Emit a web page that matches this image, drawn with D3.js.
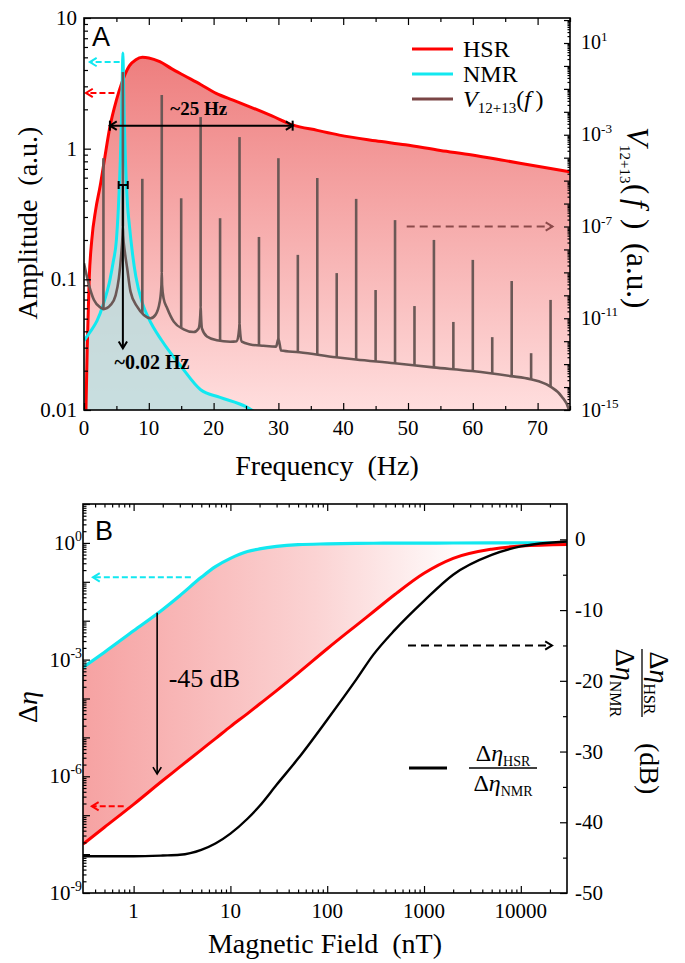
<!DOCTYPE html>
<html>
<head>
<meta charset="utf-8">
<script src="https://cdn.jsdelivr.net/npm/d3@7"></script>
<style>
  body { margin: 0; background: #fff; }
  svg text { font-family: "Liberation Serif", "Times New Roman", serif; fill: #000; }
</style>
</head>
<body>
<script>
// ---------- Panel A : spectra ----------
const hsrFreq = [0.2, 0.3, 0.5, 0.8, 1.2, 1.8, 2.5, 3.2, 4, 5, 5.8, 7, 8, 9, 10, 11.7, 13.5, 15.3, 18, 20.4,
                 23, 25.5, 29, 32.2, 36, 39.4, 45, 49.6, 55, 59.9, 65, 70.2, 75];
const hsrAmp  = [0.006, 0.01, 0.03, 0.1, 0.2, 0.34, 0.52, 0.85, 1.47, 2.35, 3.16, 4.3, 4.8, 5.0, 4.95, 4.63, 4.1, 3.66, 3.1, 2.65,
                 2.35, 2.1, 1.78, 1.52, 1.38, 1.27, 1.15, 1.07, 0.97, 0.895, 0.81, 0.73, 0.665];

const nmrFreq = [0, 1, 2, 3, 4, 4.5, 5, 5.3, 5.6, 5.8, 5.95, 6, 6.05, 6.2, 6.4, 6.7, 7, 7.5, 8, 9,
                 10, 12, 15, 18, 21, 25, 27];
const nmrAmp  = [0.034, 0.040, 0.048, 0.065, 0.099, 0.135, 0.2, 0.35, 0.8, 1.8, 4.5, 5.4, 4.5, 1.8, 0.8, 0.38, 0.26, 0.155, 0.105, 0.066,
                 0.05, 0.034, 0.0215, 0.0143, 0.0125, 0.0106, 0.0092];

// V12+13(f) smooth background (right axis)
const vBaseFreq = [0, 0.77, 1.54, 2.57, 3.0, 4.11, 4.88, 5.38, 5.74, 5.95, 6.0, 6.05, 6.3, 6.66, 7.18, 8.2, 9.23, 10.26, 11.03, 11.69,
                   11.95, 12.0, 12.05, 12.3, 12.82, 13.85, 15.38, 16.92, 17.69, 17.95, 18.0, 18.05, 18.2, 18.97, 20.5, 22.57, 23.58, 23.95, 24.0, 24.05,
                   24.35, 25.65, 27.7, 29.65, 30.0, 30.42, 33.23, 38.88, 41.95, 47.95, 53.9, 59.9, 65.85, 68.9, 71.85, 73.74, 74.8, 75.2];
const vBaseVal  = [2.5e-9, 2.8e-10, 6.2e-11, 2.9e-11, 2.5e-11, 3.8e-11, 1.0e-10, 5.6e-10, 5.8e-9, 4.3e-8, 1e-7, 4.0e-8, 7.9e-9, 1.55e-9, 1.45e-10, 3.2e-11, 1.4e-11, 1.0e-11, 1.4e-11, 5.2e-11,
                   2.8e-10, 1e-9, 2.8e-10, 7e-11, 2.8e-11, 7.1e-12, 3.3e-12, 2.5e-12, 3.6e-12, 1.4e-11, 3.2e-11, 1.4e-11, 3.6e-12, 1.6e-12, 1.1e-12, 9.5e-13, 1.0e-12, 3.6e-12, 6.3e-12, 3.6e-12,
                   9.5e-13, 7.2e-13, 6.3e-13, 5.8e-13, 1.26e-12, 3.9e-13, 3.3e-13, 2.0e-13, 1.6e-13, 1.1e-13, 7.2e-14, 5.0e-14, 3.0e-14, 2.2e-14, 1.1e-14, 3.8e-15, 1.1e-15, 3e-16];
// narrow lines at multiples of 3 Hz
const spikeFreq = [3, 6, 9, 12, 15, 18, 21, 24, 27, 30, 33, 36, 39, 42, 45, 48, 51, 54, 57, 60, 63, 66, 69, 72];
const spikeTop  = [9.5e-5, 0.54, 1.2e-5, 0.054, 1.7e-6, 5.9e-3, 2.3e-7, 7.9e-4, 3.5e-8, 9.5e-5, 5.8e-9, 1.3e-5,
                   9.3e-10, 1.6e-6, 1.7e-10, 1.9e-7, 3.4e-11, 2.6e-8, 6.9e-12, 3.5e-9, 1.5e-12, 4.2e-10, 3.0e-13, 6.3e-11];

const freqTicks = [0, 10, 20, 30, 40, 50, 60, 70];
const ampTicks = [0.01, 0.1, 1, 10];
const ampLabels = ["0.01", "0.1", "1", "10"];
const vExpLabels = [1, -3, -7, -11, -15];

// ---------- Panel B : sensitivity vs field ----------
const fieldB  = [0.3, 0.5, 1, 2, 3, 5, 7, 10, 15, 20, 30, 50, 100, 200, 300, 500, 1000, 2000, 5000, 10000, 30000];
const nmrEta  = [6.3e-4, 1.55e-3, 5.5e-3, 0.0195, 0.044, 0.13, 0.245, 0.40, 0.60, 0.70, 0.81, 0.90, 0.944, 0.97, 0.98, 0.985, 0.99, 0.995, 1.0, 1.0, 1.0];
const hsrEta  = [1.8e-8, 4.9e-8, 1.9e-7, 7.8e-7, 1.74e-6, 4.8e-6, 9.3e-6, 1.9e-5, 4.1e-5, 7.2e-5, 1.6e-4, 4.5e-4, 1.9e-3, 7.6e-3, 0.017, 0.047, 0.165, 0.40, 0.69, 0.83, 0.91];
const ratioDb = [-44.8, -44.8, -44.8, -44.7, -44.6, -43.9, -43.0, -41.6, -39.5, -37.7, -34.7, -31.0, -25.5, -19.8, -16.3, -12.8, -8.7, -5.0, -2.2, -1.0, -0.3];

const fieldTicks = [1, 10, 100, 1000, 10000];
const etaExpLabels = [0, -3, -6, -9];
const dbTicks = [0, -10, -20, -30, -40, -50];

// ---------- setup ----------
const svg = d3.select("body").append("svg").attr("width", 685).attr("height", 963);
const defs = svg.append("defs");

const pa = {l: 84, r: 570, t: 18, b: 410};
const pb = {l: 83, r: 567, t: 504, b: 893};

const xA = d3.scaleLinear().domain([0, 75]).range([pa.l, pa.r]);
const yA = d3.scaleLog().domain([0.01, 10]).range([pa.b, pa.t]);
const yV = d3.scaleLog().domain([1e-15, 123]).range([pa.b, pa.t]);

const xB = d3.scaleLog().domain([0.3, 30000]).range([pb.l, pb.r]);
const yB = d3.scaleLog().domain([1e-9, 10]).range([pb.b, pb.t]);
const yDb = d3.scaleLinear().domain([-50, 5]).range([pb.b, pb.t]);

function clip(id, p) {
	defs.append("clipPath").attr("id", id).append("rect")
		.attr("x", p.l).attr("y", p.t).attr("width", p.r - p.l).attr("height", p.b - p.t);
}
clip("clipA", pa);
clip("clipB", pb);

// gradients
let gA = defs.append("linearGradient").attr("id", "gradA").attr("gradientUnits", "userSpaceOnUse")
	.attr("x1", 0).attr("x2", 0).attr("y1", 57).attr("y2", pa.b);
gA.append("stop").attr("offset", 0).attr("stop-color", "#ee7e7e");
gA.append("stop").attr("offset", 1).attr("stop-color", "#ffdede");

let gB = defs.append("linearGradient").attr("id", "gradB").attr("gradientUnits", "userSpaceOnUse")
	.attr("x1", pb.l).attr("x2", 470).attr("y1", 0).attr("y2", 0);
gB.append("stop").attr("offset", 0).attr("stop-color", "#f6a2a2");
gB.append("stop").attr("offset", 0.6).attr("stop-color", "#fbd3d3");
gB.append("stop").attr("offset", 1).attr("stop-color", "#ffffff");

const zip = (a, b) => a.map((v, i) => [v, b[i]]);

// tick helper (inward ticks, no domain line)
function tickAxis(gen, scale, values, size, tr) {
	const a = svg.append("g").attr("transform", tr)
		.call(gen(scale).tickValues(values).tickSize(size).tickFormat(""));
	a.select(".domain").remove();
	a.selectAll("line").attr("stroke", "#000").attr("stroke-width", 1.2);
	return a;
}

function powText(x, y, exp, anchor, size) {
	const t = svg.append("text").attr("x", x).attr("y", y)
		.attr("text-anchor", anchor).attr("font-size", size);
	t.append("tspan").text("10");
	t.append("tspan").attr("dy", -size * 0.42).attr("font-size", size * 0.66).text(exp);
}

function logMinors(lo, hi) {
	let out = [];
	for (let e = Math.floor(Math.log10(lo)); e <= Math.ceil(Math.log10(hi)); ++e)
		for (let k = 2; k <= 9; ++k) {
			const v = k * Math.pow(10, e);
			if (v > lo * 1.001 && v < hi * 0.999) out.push(v);
		}
	return out;
}
function decades(lo, hi) {
	let out = [];
	for (let e = Math.ceil(Math.log10(lo) - 1e-9); e <= Math.floor(Math.log10(hi) + 1e-9); ++e) out.push(Math.pow(10, e));
	return out;
}

function arrowHead(g, x, y, ang, color, w) {
	const len = 8, spread = 0.55;
	const p1 = [x - len * Math.cos(ang - spread), y - len * Math.sin(ang - spread)];
	const p2 = [x - len * Math.cos(ang + spread), y - len * Math.sin(ang + spread)];
	g.append("polyline").attr("points", [p1, [x, y], p2].map(p => p.join(",")).join(" "))
		.attr("fill", "none").attr("stroke", color).attr("stroke-width", w);
}
function arrow(g, x1, y1, x2, y2, color, dash, w) {
	g.append("line").attr("x1", x1).attr("y1", y1).attr("x2", x2).attr("y2", y2)
		.attr("stroke", color).attr("stroke-width", w).attr("stroke-dasharray", dash);
	arrowHead(g, x2, y2, Math.atan2(y2 - y1, x2 - x1), color, w);
}
function bar(g, x, y, h, w) {
	g.append("line").attr("x1", x).attr("x2", x).attr("y1", y - h).attr("y2", y + h)
		.attr("stroke", "#000").attr("stroke-width", w);
}

// =================== Panel A ===================
const plotA = svg.append("g").attr("clip-path", "url(#clipA)");

// HSR filled area
plotA.append("path")
	.datum(zip(hsrFreq, hsrAmp))
	.attr("fill", "url(#gradA)")
	.attr("d", d3.area().x(d => xA(d[0])).y0(pa.b).y1(d => yA(d[1])).curve(d3.curveMonotoneX));

// NMR filled area
plotA.append("path")
	.datum(zip(nmrFreq, nmrAmp))
	.attr("fill", "#badee0").attr("fill-opacity", 0.8)
	.attr("d", d3.area().x(d => xA(d[0])).y0(pa.b).y1(d => yA(d[1])).curve(d3.curveMonotoneX));

plotA.append("path")
	.datum(zip(hsrFreq, hsrAmp))
	.attr("fill", "none").attr("stroke", "#ff0000").attr("stroke-width", 3)
	.attr("d", d3.line().x(d => xA(d[0])).y(d => yA(d[1])).curve(d3.curveMonotoneX));

plotA.append("path")
	.datum(zip(nmrFreq, nmrAmp))
	.attr("fill", "none").attr("stroke", "#12e8f0").attr("stroke-width", 3)
	.attr("d", d3.line().x(d => xA(d[0])).y(d => yA(d[1])).curve(d3.curveMonotoneX));

// V12+13 background + spikes
const vColor = "#6b5856";
plotA.append("path")
	.datum(zip(vBaseFreq, vBaseVal))
	.attr("fill", "none").attr("stroke", vColor).attr("stroke-width", 2.6)
	.attr("d", d3.line().x(d => xA(d[0])).y(d => yV(d[1])).curve(d3.curveMonotoneX));

function baseAt(f) {
	const i = d3.bisectLeft(vBaseFreq, f);
	if (vBaseFreq[i] === f) return vBaseVal[i];
	const t = (f - vBaseFreq[i - 1]) / (vBaseFreq[i] - vBaseFreq[i - 1]);
	return Math.pow(10, Math.log10(vBaseVal[i - 1]) * (1 - t) + Math.log10(vBaseVal[i]) * t);
}
plotA.selectAll("line.spike")
	.data(zip(spikeFreq, spikeTop))
	.enter().append("line").attr("class", "spike")
	.attr("x1", d => xA(d[0])).attr("x2", d => xA(d[0]))
	.attr("y1", d => yV(baseAt(d[0]))).attr("y2", d => yV(d[1]))
	.attr("stroke", vColor).attr("stroke-width", 2.6);

// annotations A
const ann = svg.append("g");
arrow(ann, xA(5.5), yA(4.6), xA(0.9), yA(4.6), "#12e8f0", "6,3", 2);
arrow(ann, xA(4.7), yA(2.67), xA(0.3), yA(2.67), "#ff0000", "6,3", 2);
arrow(ann, xA(49.8), yV(1e-7), xA(72.3), yV(1e-7), "#8b4a4a", "8,5", 2);

// ~25 Hz width marker
const y25 = yA(1.5);
ann.append("line").attr("x1", xA(4)).attr("x2", xA(32.2)).attr("y1", y25).attr("y2", y25).attr("stroke", "#000").attr("stroke-width", 2);
arrowHead(ann, xA(4), y25, Math.PI, "#000", 2);
arrowHead(ann, xA(32.2), y25, 0, "#000", 2);
bar(ann, xA(4), y25, 5, 2);
bar(ann, xA(32.2), y25, 5, 2);
ann.append("text").attr("x", xA(17.7)).attr("y", yA(1.81)).attr("text-anchor", "middle")
	.attr("font-size", 19).attr("font-weight", "bold").text("~25 Hz");

// ~0.02 Hz width marker
const y02 = yA(0.527);
ann.append("line").attr("x1", xA(5.35)).attr("x2", xA(6.75)).attr("y1", y02).attr("y2", y02).attr("stroke", "#000").attr("stroke-width", 2);
bar(ann, xA(5.35), y02, 4, 2);
bar(ann, xA(6.75), y02, 4, 2);
arrow(ann, xA(6), y02, xA(6), yA(0.0297), "#000", null, 2);
ann.append("text").attr("x", xA(10.5)).attr("y", yA(0.0206)).attr("text-anchor", "middle")
	.attr("font-size", 20).attr("font-weight", "bold").text("~0.02 Hz");

// axes A
tickAxis(d3.axisBottom, xA, d3.range(0, 76, 5).filter(v => v % 10), -4, `translate(0,${pa.b})`);
tickAxis(d3.axisBottom, xA, freqTicks, -7, `translate(0,${pa.b})`);
tickAxis(d3.axisTop, xA, d3.range(0, 76, 5).filter(v => v % 10), -4, `translate(0,${pa.t})`);
tickAxis(d3.axisTop, xA, freqTicks, -7, `translate(0,${pa.t})`);
tickAxis(d3.axisLeft, yA, logMinors(0.01, 10), -4, `translate(${pa.l},0)`);
tickAxis(d3.axisLeft, yA, ampTicks, -7, `translate(${pa.l},0)`);
tickAxis(d3.axisRight, yV, logMinors(1e-15, 123), -2.5, `translate(${pa.r},0)`);
tickAxis(d3.axisRight, yV, decades(1e-15, 123), -6, `translate(${pa.r},0)`);

svg.append("rect").attr("x", pa.l).attr("y", pa.t).attr("width", pa.r - pa.l).attr("height", pa.b - pa.t)
	.attr("fill", "none").attr("stroke", "#000").attr("stroke-width", 1.6);

freqTicks.forEach(v => svg.append("text").attr("x", xA(v)).attr("y", 435)
	.attr("text-anchor", "middle").attr("font-size", 21).text(v));
ampTicks.forEach((v, i) => svg.append("text").attr("x", 77).attr("y", yA(v) + 7)
	.attr("text-anchor", "end").attr("font-size", 21).text(ampLabels[i]));
vExpLabels.forEach(e => powText(581, yV(Math.pow(10, e)) + 6.5, e, "start", 20));

svg.append("text").attr("x", xA(37.5)).attr("y", 475).attr("text-anchor", "middle")
	.attr("font-size", 28).text("Frequency\u00a0\u00a0(Hz)");
svg.append("text").attr("transform", "translate(37,223) rotate(-90)").attr("text-anchor", "middle")
	.attr("font-size", 28).text("Amplitude\u00a0\u00a0(a.u.)");

// right title, rotated
let rt = svg.append("text").attr("transform", "translate(627,127) rotate(90)").attr("font-size", 31);
rt.append("tspan").attr("x", 0).attr("font-style", "italic").text("V");
rt.append("tspan").attr("x", 18).attr("dy", 7).attr("font-size", 15).text("12+13");
rt.append("tspan").attr("x", 57).attr("dy", -7).text("(");
rt.append("tspan").attr("x", 72).attr("font-style", "italic").text("f");
rt.append("tspan").attr("x", 92).text(")");
rt.append("tspan").attr("x", 116).text("(a.u.)");

svg.append("text").attr("x", 92).attr("y", 46).attr("font-size", 27)
	.style("font-family", "'Liberation Sans', Arial, sans-serif").text("A");

// legend A
const legA = svg.append("g");
[["HSR", "#ff0000", 49], ["NMR", "#12e8f0", 74], ["V", "#7a4545", 99]].forEach(d => {
	legA.append("line").attr("x1", 412).attr("x2", 453).attr("y1", d[2]).attr("y2", d[2])
		.attr("stroke", d[1]).attr("stroke-width", 3);
});
legA.append("text").attr("x", 463).attr("y", 57).attr("font-size", 24).text("HSR");
legA.append("text").attr("x", 463).attr("y", 82).attr("font-size", 24).text("NMR");
let lv = legA.append("text").attr("x", 463).attr("y", 107).attr("font-size", 24);
lv.append("tspan").attr("font-style", "italic").text("V");
lv.append("tspan").attr("dy", 6).attr("font-size", 15).text("12+13");
lv.append("tspan").attr("dy", -6).text("(");
lv.append("tspan").attr("font-style", "italic").text("f");
lv.append("tspan").text("\u2009)");

// =================== Panel B ===================
const plotB = svg.append("g").attr("clip-path", "url(#clipB)");

plotB.append("path")
	.datum(fieldB.map((b, i) => [b, nmrEta[i], hsrEta[i]]))
	.attr("fill", "url(#gradB)")
	.attr("d", d3.area().x(d => xB(d[0])).y0(d => yB(d[2])).y1(d => yB(d[1])).curve(d3.curveMonotoneX));

plotB.append("path")
	.datum(zip(fieldB, nmrEta))
	.attr("fill", "none").attr("stroke", "#12e8f0").attr("stroke-width", 3.2)
	.attr("d", d3.line().x(d => xB(d[0])).y(d => yB(d[1])).curve(d3.curveMonotoneX));

plotB.append("path")
	.datum(zip(fieldB, hsrEta))
	.attr("fill", "none").attr("stroke", "#ff0000").attr("stroke-width", 3)
	.attr("d", d3.line().x(d => xB(d[0])).y(d => yB(d[1])).curve(d3.curveMonotoneX));

plotB.append("path")
	.datum(zip(fieldB, ratioDb))
	.attr("fill", "none").attr("stroke", "#000").attr("stroke-width", 2.4)
	.attr("d", d3.line().x(d => xB(d[0])).y(d => yDb(d[1])).curve(d3.curveMonotoneX));

// annotations B
const annB = svg.append("g");
arrow(annB, xB(3.9), yB(0.13), xB(0.38), yB(0.13), "#12e8f0", "6,3", 2);
arrow(annB, xB(0.79), yB(1.7e-7), xB(0.37), yB(1.7e-7), "#ff0000", "6,3", 2);
arrow(annB, xB(683), yDb(-15), xB(21000), yDb(-15), "#000", "8,5", 2);
arrow(annB, xB(1.75), yB(0.016), xB(1.75), yB(1.15e-6), "#000", null, 1.6);
annB.append("text").attr("x", xB(2.3)).attr("y", 687).attr("font-size", 26).text("-45 dB");

// axes B
tickAxis(d3.axisBottom, xB, logMinors(0.3, 30000), -3.5, `translate(0,${pb.b})`);
tickAxis(d3.axisBottom, xB, fieldTicks, -7, `translate(0,${pb.b})`);
tickAxis(d3.axisTop, xB, logMinors(0.3, 30000), -3.5, `translate(0,${pb.t})`);
tickAxis(d3.axisTop, xB, fieldTicks, -7, `translate(0,${pb.t})`);
tickAxis(d3.axisLeft, yB, logMinors(1e-9, 10), -3.5, `translate(${pb.l},0)`);
tickAxis(d3.axisLeft, yB, decades(1e-9, 10), -7, `translate(${pb.l},0)`);
tickAxis(d3.axisRight, yDb, d3.range(-45, 5, 10), -4, `translate(${pb.r},0)`);
tickAxis(d3.axisRight, yDb, dbTicks, -7, `translate(${pb.r},0)`);

svg.append("rect").attr("x", pb.l).attr("y", pb.t).attr("width", pb.r - pb.l).attr("height", pb.b - pb.t)
	.attr("fill", "none").attr("stroke", "#000").attr("stroke-width", 1.6);

fieldTicks.forEach(v => svg.append("text").attr("x", xB(v)).attr("y", 918)
	.attr("text-anchor", "middle").attr("font-size", 21).text(v));
etaExpLabels.forEach(e => powText(82, yB(Math.pow(10, e)) + 7, e, "end", 21));
dbTicks.forEach(v => svg.append("text").attr("x", 575).attr("y", yDb(v) + 7)
	.attr("font-size", 21).text(v));

svg.append("text").attr("x", (pb.l + pb.r) / 2).attr("y", 953).attr("text-anchor", "middle")
	.attr("font-size", 28).text("Magnetic Field\u00a0\u00a0(nT)");

let lt = svg.append("text").attr("transform", "translate(37,723) rotate(-90)").attr("font-size", 28);
lt.append("tspan").text("\u0394");
lt.append("tspan").attr("font-style", "italic").text("\u03b7");

svg.append("text").attr("x", 95).attr("y", 540).attr("font-size", 27)
	.style("font-family", "'Liberation Sans', Arial, sans-serif").text("B");

// fraction helper: numerator / denominator around a bar at (0,0)
function etaFrac(g, size, sub, half, gapUp, gapDown) {
	const n = g.append("text").attr("x", 0).attr("y", -gapUp).attr("text-anchor", "middle").attr("font-size", size);
	n.append("tspan").text("\u0394");
	n.append("tspan").attr("font-style", "italic").text("\u03b7");
	n.append("tspan").attr("dy", size * 0.2).attr("font-size", sub).text("HSR");
	g.append("line").attr("x1", -half).attr("x2", half).attr("y1", 0).attr("y2", 0)
		.attr("stroke", "#000").attr("stroke-width", 1.3);
	const d = g.append("text").attr("x", 0).attr("y", gapDown).attr("text-anchor", "middle").attr("font-size", size);
	d.append("tspan").text("\u0394");
	d.append("tspan").attr("font-style", "italic").text("\u03b7");
	d.append("tspan").attr("dy", size * 0.2).attr("font-size", sub).text("NMR");
}

// right title of B (rotated fraction + unit)
const rtB = svg.append("g").attr("transform", "translate(642,683) rotate(90)");
etaFrac(rtB, 28, 16, 34, 8, 26);
rtB.append("text").attr("x", 60).attr("y", 2).attr("font-size", 28).text("(dB)");

// legend B
svg.append("line").attr("x1", 409).attr("x2", 447).attr("y1", 768).attr("y2", 768)
	.attr("stroke", "#000").attr("stroke-width", 3);
etaFrac(svg.append("g").attr("transform", "translate(503,768)"), 24, 14, 34, 7, 23);
</script>
</body>
</html>
